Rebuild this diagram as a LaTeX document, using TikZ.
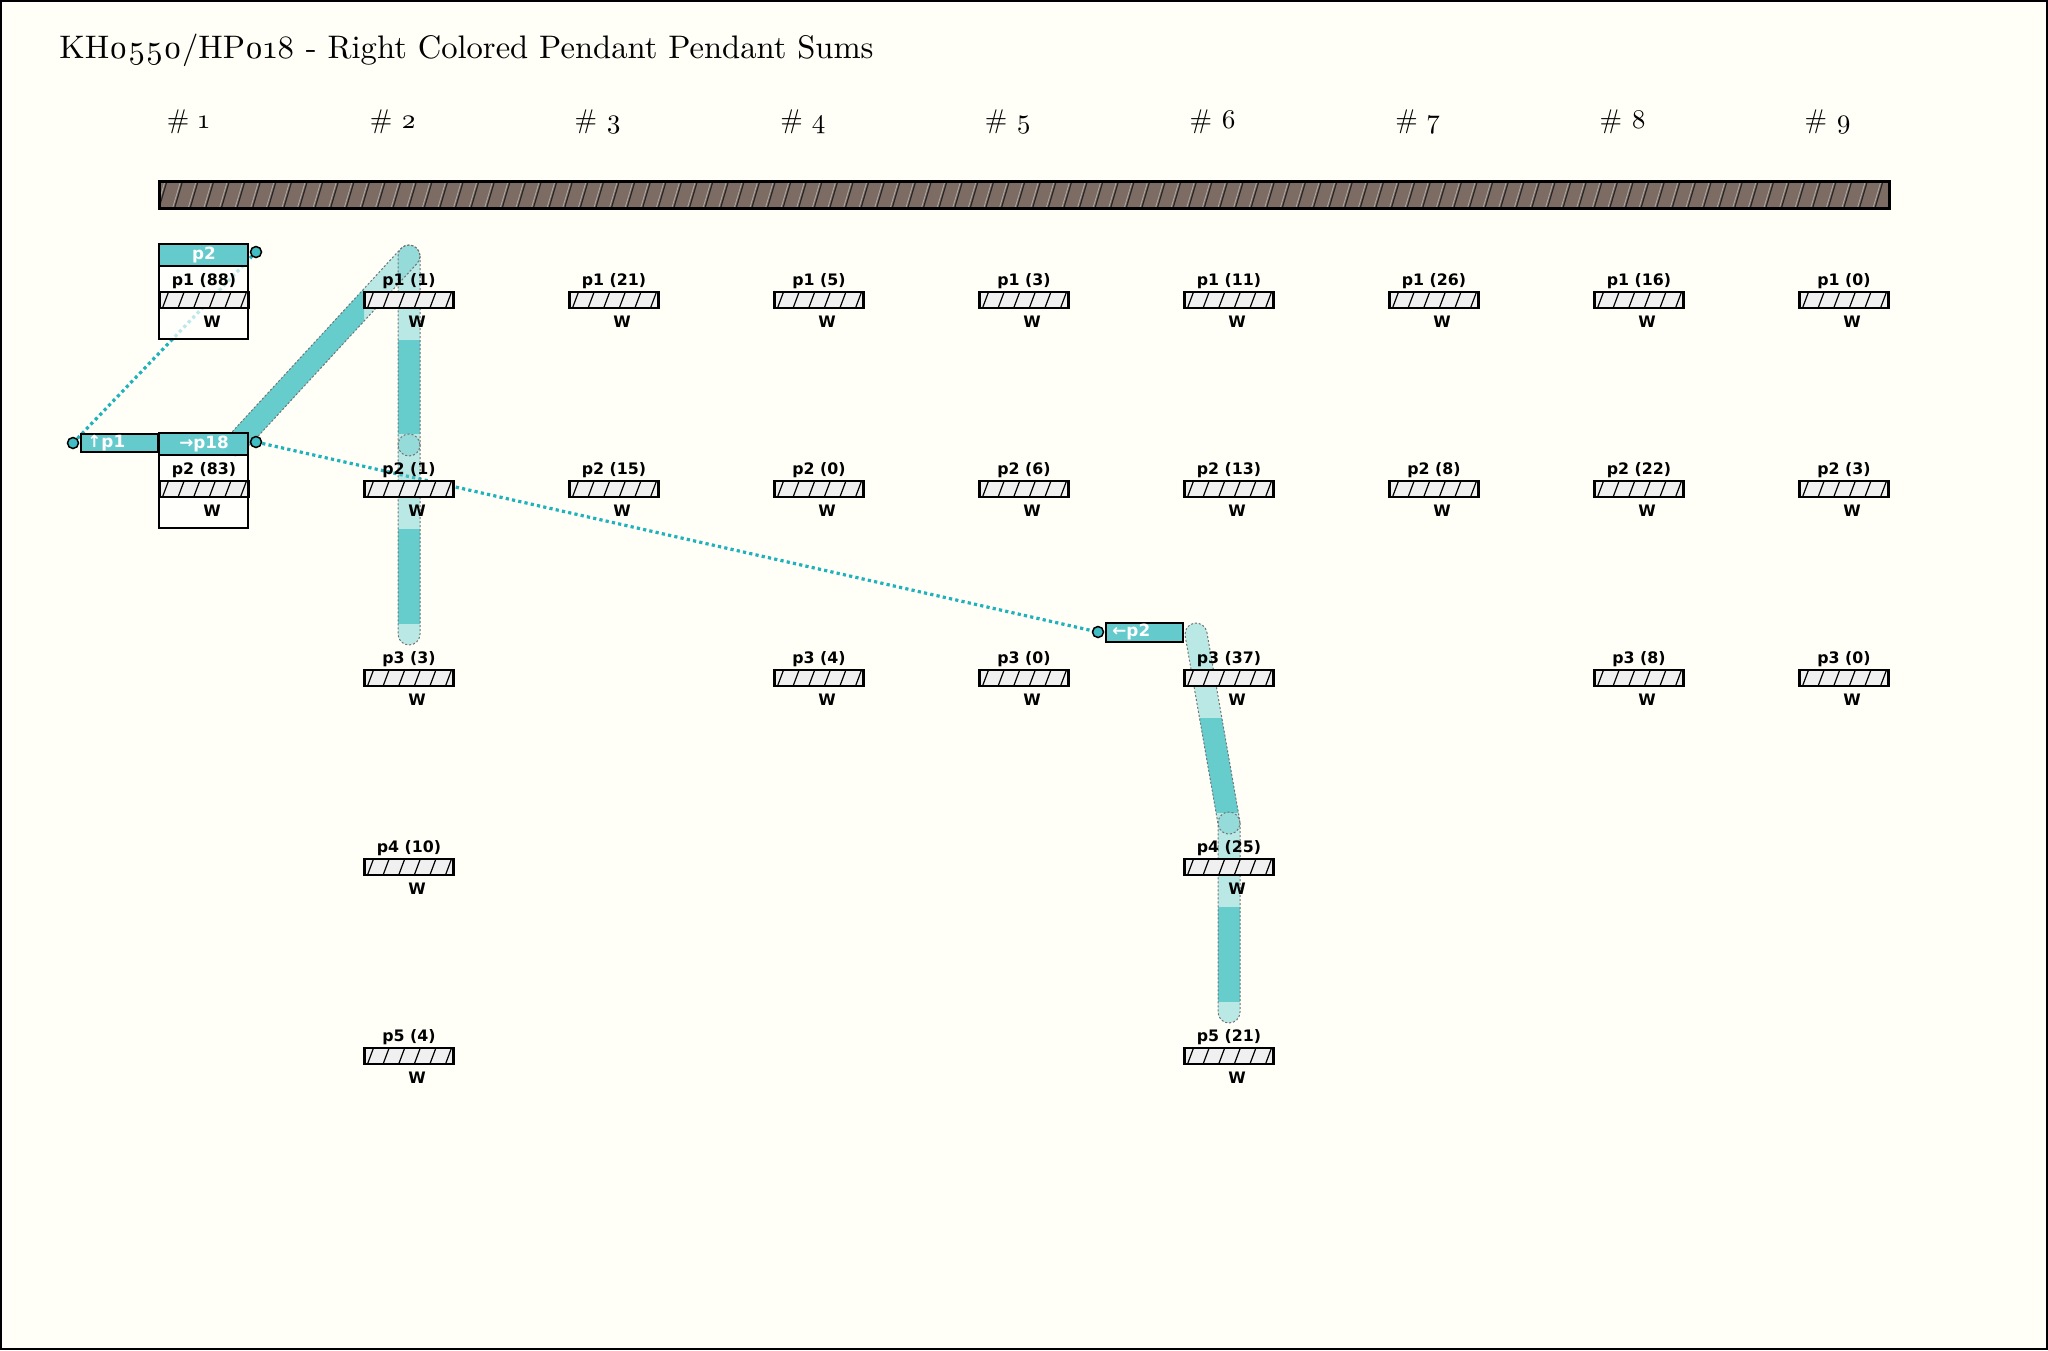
\documentclass[tikz,border=0pt]{standalone}
\usepackage{fontspec}
\setmainfont{lmroman10-regular.otf}[Numbers=OldStyle]
\newfontfamily\labelfont{DejaVu Sans}
\usepackage{tikz}
\usetikzlibrary{calc}
\tikzset{>=latex}
\definecolor{mycream}{RGB}{255, 255, 248}
\definecolor{mybrown}{RGB}{125, 108, 100}
\definecolor{mygray1}{RGB}{240, 240, 240}
\definecolor{mygray3}{RGB}{176, 168, 160}
\definecolor{mycyan1}{RGB}{102, 204, 204}
\definecolor{mycyan2}{RGB}{88, 198, 200}
\definecolor{mycyan3}{RGB}{32, 178, 186}
\definecolor{mycyan4}{RGB}{64, 190, 196}

\tikzset{
  hbox/.style={draw, line width=1.1pt, fill=mygray1, minimum width=44.5pt,
    minimum height=8pt, inner sep=0pt,
    path picture={\foreach \k in {0,...,5}
      \draw[line width=0.6pt] ([xshift=1.5pt+\k*7.8pt]path picture bounding box.south west) -- ++(3pt,8pt);}},
  plabel/.style={font=\labelfont\bfseries\fontsize{7.9}{9}\selectfont, inner sep=0pt, anchor=base},
  htext/.style={font=\labelfont\bfseries\fontsize{8.4}{9}\selectfont, text=white, inner sep=0pt},
  hdr/.style={draw, line width=1pt, fill=mycyan2, fill opacity=0.92},
  colhead/.style={font=\fontsize{13.5}{15}\selectfont, inner sep=0pt, anchor=base},
  port/.style={circle, draw, line width=0.75pt, fill=mycyan4, inner sep=0pt, minimum size=5.5pt},
  pdots/.style={mycyan3, line width=1.6pt, dash pattern=on 1.6pt off 1.6pt},
  lightband/.style={fill=mycyan1, fill opacity=0.45},
  darkband/.style={fill=mycyan1},
  bandedge/.style={draw=black!55, line width=0.5pt, dash pattern=on 1pt off 1pt}
}

% pendant: x, y, name, label
\newcommand{\pendant}[4]{%
  \node[hbox] (#3) at (#1,#2) {};
  \node[plabel] (#3t) at (#1,#2-15) {#4};
  \node[plabel] (#3w) at (#1+8,#2+27) {W};
}
% band with round ends: style, from, to
\newcommand{\bandpath}[3]{%
  \path[#1] let \p1=($(#3)-(#2)$), \n1={atan2(\y1,\x1)} in
    ($(#2)+(\n1+90:5.5pt)$) -- ($(#3)+(\n1+90:5.5pt)$)
    arc[start angle=\n1+90, end angle=\n1-90, radius=5.5pt]
    -- ($(#2)+(\n1-90:5.5pt)$)
    arc[start angle=\n1-90, end angle=\n1-270, radius=5.5pt] -- cycle;
}

\begin{document}
\begin{tikzpicture}[x=0.5pt, y=-0.5pt]
\useasboundingbox (0,0) rectangle (2048,1350);
\fill[mycream] (0,0) rectangle (2048,1350);
\draw[line width=1pt] (1,1) rectangle (2047,1349);

\node[anchor=base west, inner sep=0pt, font=\fontsize{16.3}{18}\selectfont] (title) at (59,58)
  {KH0550/HP018 - Right Colored Pendant Pendant Sums};

\node[colhead] (h1) at (188,128) {\# 1};
\node[colhead] (h2) at (393,128) {\# 2};
\node[colhead] (h3) at (598,128) {\# 3};
\node[colhead] (h4) at (803,128) {\# 4};
\node[colhead] (h5) at (1008,128) {\# 5};
\node[colhead] (h6) at (1213,128) {\# 6};
\node[colhead] (h7) at (1418,128) {\# 7};
\node[colhead] (h8) at (1623,128) {\# 8};
\node[colhead] (h9) at (1828,128) {\# 9};

% main cord
\begin{scope}
\clip (159,181) rectangle (1889,208);
\fill[mybrown] (159,181) rectangle (1889,208);
\foreach \k in {0,...,111} {
  \draw[mygray3, line width=0.4pt] (157+15.6*\k,208) -- ++(8,-27);
  \draw[black!85, line width=0.6pt] (159+15.6*\k,208) -- ++(8,-27);
}
\end{scope}
\draw[line width=1.5pt] (159,181) rectangle (1889,208);

% ports
\coordinate (o1) at (256,252);
\coordinate (o2) at (256,442);
\coordinate (o3) at (73,443);
\coordinate (o4) at (1098,632);
\draw[pdots] (o3) -- (o1);
\draw[pdots] (o2) -- (o4);

% bands
\coordinate (b1) at (235,445);
\coordinate (b2) at (409,256);
\coordinate (b3) at (409,445);
\coordinate (b4) at (409,634);
\coordinate (b5) at (1196,634);
\coordinate (b6) at (1229,823);
\coordinate (b7) at (1229,1012);
\bandpath{lightband}{b1}{b2}
\bandpath{lightband}{b2}{b3}
\bandpath{lightband}{b3}{b4}
\bandpath{lightband}{b5}{b6}
\bandpath{lightband}{b6}{b7}
\begin{scope}
\clip (0,0) rectangle (364,1350);
\bandpath{darkband}{b1}{b2}
\end{scope}
\begin{scope}
\clip (0,340) rectangle (2048,433);
\bandpath{darkband}{b2}{b3}
\end{scope}
\begin{scope}
\clip (0,529) rectangle (2048,623);
\bandpath{darkband}{b3}{b4}
\end{scope}
\begin{scope}
\clip (0,718) rectangle (2048,812);
\bandpath{darkband}{b5}{b6}
\end{scope}
\begin{scope}
\clip (0,907) rectangle (2048,1001);
\bandpath{darkband}{b6}{b7}
\end{scope}
\bandpath{bandedge}{b1}{b2}
\bandpath{bandedge}{b2}{b3}
\bandpath{bandedge}{b3}{b4}
\bandpath{bandedge}{b5}{b6}
\bandpath{bandedge}{b6}{b7}

% first column
\filldraw[fill=white, fill opacity=0.7, line width=1pt] (159,244) rectangle (248,339);
\draw[hdr] (159,244) rectangle (248,266);
\node[htext] (c1p1h) at (204,255) {p2};
\filldraw[fill=white, fill opacity=0.7, line width=1pt] (159,433) rectangle (248,528);
\draw[hdr] (159,433) rectangle (248,455);
\node[htext] (c1p2h) at (204,444) {→p18};
\draw[hdr] (81,434) rectangle (158,452);
\node[htext, anchor=west] (up1) at (87,443) {↑p1};
\draw[hdr] (1106,623) rectangle (1183,642);
\node[htext, anchor=west] (lp2) at (1112,632) {←p2};

\pendant{204}{300}{c1p1}{p1 (88)}
\pendant{204}{489}{c1p2}{p2 (83)}

\pendant{409}{300}{c2p1}{p1 (1)}
\pendant{409}{489}{c2p2}{p2 (1)}
\pendant{409}{678}{c2p3}{p3 (3)}
\pendant{409}{867}{c2p4}{p4 (10)}
\pendant{409}{1056}{c2p5}{p5 (4)}

\pendant{614}{300}{c3p1}{p1 (21)}
\pendant{614}{489}{c3p2}{p2 (15)}

\pendant{819}{300}{c4p1}{p1 (5)}
\pendant{819}{489}{c4p2}{p2 (0)}
\pendant{819}{678}{c4p3}{p3 (4)}

\pendant{1024}{300}{c5p1}{p1 (3)}
\pendant{1024}{489}{c5p2}{p2 (6)}
\pendant{1024}{678}{c5p3}{p3 (0)}

\pendant{1229}{300}{c6p1}{p1 (11)}
\pendant{1229}{489}{c6p2}{p2 (13)}
\pendant{1229}{678}{c6p3}{p3 (37)}
\pendant{1229}{867}{c6p4}{p4 (25)}
\pendant{1229}{1056}{c6p5}{p5 (21)}

\pendant{1434}{300}{c7p1}{p1 (26)}
\pendant{1434}{489}{c7p2}{p2 (8)}

\pendant{1639}{300}{c8p1}{p1 (16)}
\pendant{1639}{489}{c8p2}{p2 (22)}
\pendant{1639}{678}{c8p3}{p3 (8)}

\pendant{1844}{300}{c9p1}{p1 (0)}
\pendant{1844}{489}{c9p2}{p2 (3)}
\pendant{1844}{678}{c9p3}{p3 (0)}

\node[port] (o1n) at (o1) {};
\node[port] (o2n) at (o2) {};
\node[port] (o3n) at (o3) {};
\node[port] (o4n) at (o4) {};
\end{tikzpicture}
\end{document}
